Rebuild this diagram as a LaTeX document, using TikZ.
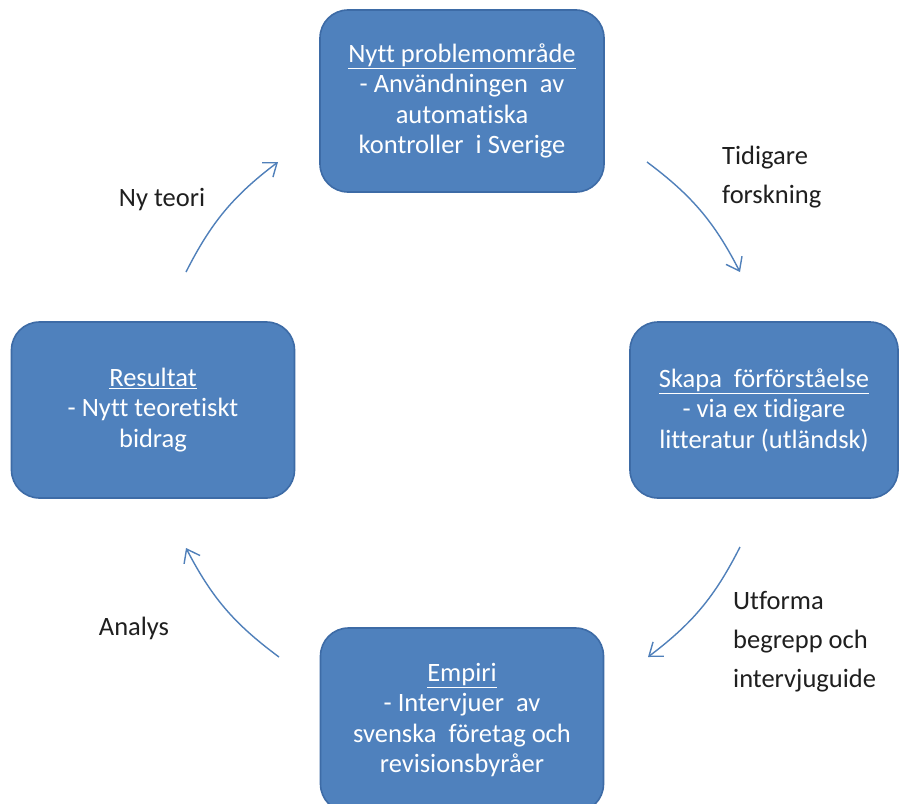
\documentclass[tikz,border=0pt]{standalone}
\usepackage{fontspec}
\setmainfont{Carlito}[Ligatures={NoCommon,NoContextual},Contextuals=NoAlternate]
\usetikzlibrary{arrows.meta,positioning}

\definecolor{boxblue}{HTML}{4F81BD}
\definecolor{boxedge}{HTML}{3D6BA6}
\definecolor{flowblue}{HTML}{5080BA}

\tikzset{
  stage/.style={draw=boxedge,line width=1.6pt,fill=boxblue,rounded corners=28pt,
    text=white,align=center,inner sep=0pt,
    font=\fontsize{26.5}{30.5}\selectfont},
  flow/.style={draw=flowblue,line width=1.4pt,-{Straight Barb[length=12pt,width=18pt]}},
  steplabel/.style={text=black!88,align=left,inner sep=0pt,
    font=\fontsize{26.5}{39}\selectfont}
}

\begin{document}
\begin{tikzpicture}[x=1pt,y=-1pt]
  \useasboundingbox[fill=white] (0,0) rectangle (899,803);
  % the four stages
  \node[stage,minimum width=284pt,minimum height=182pt] (problem) at (462,101)
    {\underline{Nytt problemområde}\\- Användningen~ av\\automatiska\\kontroller~ i Sverige};
  \node[stage,minimum width=268pt,minimum height=176pt] (forstaelse) at (764,410)
    {\underline{Skapa~ förförståelse}\\- via ex tidigare\\litteratur (utländsk)};
  \node[stage,minimum width=283pt,minimum height=184pt] (empiri) at (462,720)
    {\underline{Empiri}\\- Intervjuer~ av\\svenska~ företag och\\revisionsbyråer};
  \node[stage,minimum width=283pt,minimum height=176pt] (resultat) at (153,410)
    {\underline{Resultat}\\- Nytt teoretiskt\\bidrag};

  % arrow ends
  \coordinate (tidigareA) at (647,162);
  \coordinate (tidigareB) at (740,272);
  \coordinate (utformaA) at (740,547);
  \coordinate (utformaB) at (648,657);
  \coordinate (analysA) at (279,657);
  \coordinate (analysB) at (186,548);
  \coordinate (teoriA) at (186,272);
  \coordinate (teoriB) at (278,162);

  \draw[flow] (tidigareA) to[bend left=13] (tidigareB);
  \draw[flow] (utformaA) to[bend left=13] (utformaB);
  \draw[flow] (analysA) to[bend left=13] (analysB);
  \draw[flow] (teoriA) to[bend left=13] (teoriB);

  % labels
  \node[steplabel,anchor=west] (tidigare) at (722,177) {Tidigare\\forskning};
  \node[steplabel,anchor=west] (utforma) at (733,642) {Utforma\\begrepp och\\intervjuguide};
  \node[steplabel] (analys) at (134,628) {Analys};
  \node[steplabel] (nyteori) at (162,200) {Ny teori};
\end{tikzpicture}
\end{document}
